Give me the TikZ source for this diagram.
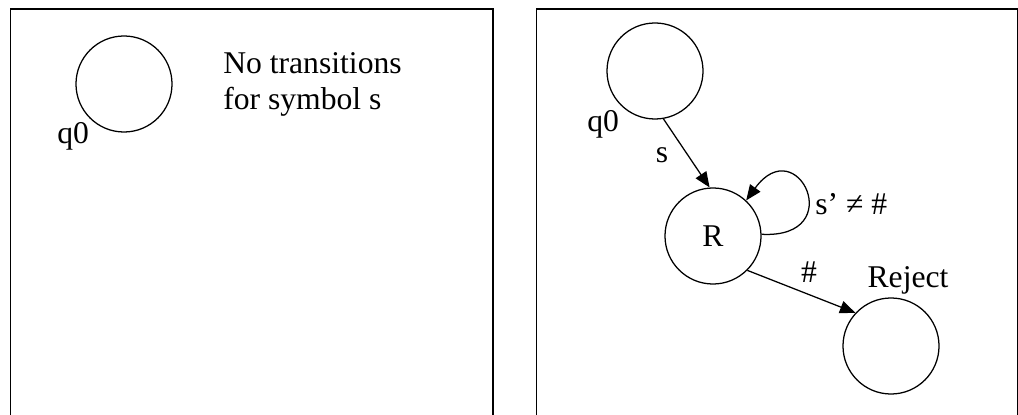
\documentclass[tikz,border=0pt]{standalone}
\usepackage{fontspec}
\setmainfont{Liberation Serif}
\usepackage{tikz}
\usetikzlibrary{automata, positioning, arrows.meta}

\tikzset{
	every state/.style={draw, line width=0.9pt, minimum size=2.4cm, inner sep=0pt},
	panel/.style={draw, line width=1.4pt},
	trans/.style={line width=0.9pt, -{Triangle[length=11pt,width=9pt]}}
}

\begin{document}
\begin{tikzpicture}[x=0.025cm, y=0.025cm, font=\fontsize{22.5}{26.3}\selectfont]
	\clip (0,0) rectangle (1018,414);
	% the two panels
	\draw[panel] (10.5,-20) rectangle (493,405);
	\draw[panel] (536.5,-20) rectangle (1017.5,405);
	% left: no move on s
	\node[state] (q0l) at (124,330) {};
	\node[anchor=base west, inner sep=0pt] (q0llabel) at (57,270) {q0};
	\node[anchor=base west, inner sep=0pt, align=left] (note) at (223,304) {No transitions\\for symbol s};
	% right: move to R, loop until #, then reject
	\node[state] (q0) at (655,343) {};
	\node[state] (R) at (713,178) {R};
	\node[state] (rej) at (891,68) {};
	\node[anchor=base west, inner sep=0pt] (q0label) at (587,282) {q0};
	\node[anchor=base, inner sep=0pt] (rejlabel) at (908,126) {Reject};
	\node[anchor=base, inner sep=0pt] (slabel) at (662,251) {s};
	\node[anchor=base, inner sep=0pt] (hashlabel) at (809,131) {\#};
	\node[anchor=base west, inner sep=0pt] (looplabel) at (815,199) {s’ ≠ \#};
	\draw
	(q0.-80) edge[trans] (R.94)
	(R.-45) edge[trans] (rej.137)
	(R.2) edge[trans, out=-3, in=54, looseness=6] (R.47);
\end{tikzpicture}
\end{document}
